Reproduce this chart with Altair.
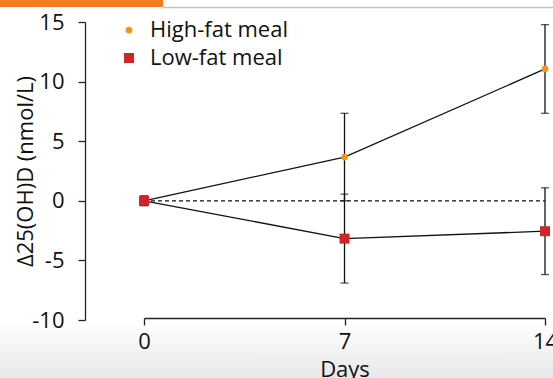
import altair as alt
import pandas as pd

# Change in serum 25(OH)D over the study days, mean with error bars
days = [0, 7, 14]
groups = ["High-fat meal", "Low-fat meal"]
high_fat_mean = [0.0, 3.67, 11.06]
high_fat_err = [0.4, 3.67, 3.72]
low_fat_mean = [0.0, -3.17, -2.55]
low_fat_err = [0.4, 3.73, 3.64]
group_colors = ["#f7921e", "#d42229"]
x_ticks = [0, 7, 14]
y_ticks = [-10, -5, 0, 5, 10, 15]

rows = []
for g, means, errs in zip(groups, [high_fat_mean, low_fat_mean], [high_fat_err, low_fat_err]):
    for d, m, e in zip(days, means, errs):
        rows.append({"day": d, "group": g, "mean": m, "lo": m - e, "hi": m + e})
df = pd.DataFrame(rows)

baseline_df = pd.DataFrame({"day": [days[0], days[-1]], "mean": [0, 0]})
shade_row = pd.DataFrame({"part": ["shade"]})
tab_row = pd.DataFrame({"part": ["tab"]})
rule_row = pd.DataFrame({"part": ["rule"]})

FONT = "Open Sans"
W, H = 401, 298

x_scale = alt.Scale(domain=[0, 14], nice=False, zero=False)
y_scale = alt.Scale(domain=[-10, 15], nice=False, zero=False)

x_axis = alt.Axis(
    values=x_ticks, title="Days", offset=-2, tickSize=7, labelPadding=23,
    labelBaseline="alphabetic", labelFlush=False, labelFontSize=22, labelFont=FONT,
    titleFontSize=22, titleFont=FONT, titleFontWeight="normal",
    titleX=W / 2, titleY=58, titleBaseline="alphabetic", titleAlign="center",
    grid=False, zindex=2,
)
y_axis = alt.Axis(
    values=y_ticks, title="Δ25(OH)D (nmol/L)", offset=59, tickSize=7, labelPadding=14,
    labelExpr="datum.value < 0 ? '-' + abs(datum.value) : '' + datum.value",
    labelFontSize=22, labelFont=FONT, labelBaseline="middle",
    titleFontSize=22, titleFont=FONT, titleFontWeight="normal", titleAngle=-90,
    titleX=-53, titleY=H / 2, titleBaseline="alphabetic", titleAlign="center",
    grid=False, zindex=2,
)

X = alt.X("day:Q", scale=x_scale, axis=x_axis)

color = alt.Color("group:N", scale=alt.Scale(domain=groups, range=group_colors),
                  legend=alt.Legend(title=None))
shape = alt.Shape("group:N", scale=alt.Scale(domain=groups, range=["circle", "square"]),
                  legend=alt.Legend(title=None))
size = alt.Size("group:N", scale=alt.Scale(domain=groups, range=[45, 100]),
                legend=alt.Legend(title=None))

# light grey shading along the bottom edge of the page
shade = alt.Chart(shade_row).mark_rect(
    fill=alt.LinearGradient(
        gradient="linear",
        stops=[alt.GradientStop(offset=0, color="#ffffff"),
               alt.GradientStop(offset=1, color="#e6e6e6")],
        x1=0, x2=0, y1=0, y2=1,
    ),
    strokeWidth=0,
).encode(x=alt.value(-150), x2=alt.value(420), y=alt.value(300), y2=alt.value(360))

# orange tab at the top-left corner and a thin grey rule beside it
tab = alt.Chart(tab_row).mark_rect(fill="#f47b20", strokeWidth=0).encode(
    x=alt.value(-150), x2=alt.value(19), y=alt.value(-25), y2=alt.value(-15)
)
top_rule = alt.Chart(rule_row).mark_rule(color="#c4c4c4", strokeWidth=1.5).encode(
    x=alt.value(19), x2=alt.value(420), y=alt.value(-14.5)
)

zero_line = alt.Chart(baseline_df).mark_line(
    color="#111111", strokeWidth=1.2, strokeDash=[4, 3]
).encode(x=X, y=alt.Y("mean:Q", scale=y_scale, axis=y_axis))

lines = alt.Chart(df).mark_line(color="#111111", strokeWidth=1.3).encode(
    x=X, y=alt.Y("mean:Q", scale=y_scale, axis=y_axis), detail="group:N"
)

err_rules = alt.Chart(df).mark_rule(color="#111111", strokeWidth=1.3).encode(
    x=X, y=alt.Y("lo:Q", scale=y_scale, axis=y_axis), y2="hi:Q"
)
caps_lo = alt.Chart(df).mark_tick(color="#111111", orient="horizontal", size=8, thickness=1.3).encode(
    x=X, y=alt.Y("lo:Q", scale=y_scale, axis=y_axis)
)
caps_hi = alt.Chart(df).mark_tick(color="#111111", orient="horizontal", size=8, thickness=1.3).encode(
    x=X, y=alt.Y("hi:Q", scale=y_scale, axis=y_axis)
)

points = alt.Chart(df).mark_point(filled=True, opacity=1, strokeWidth=0).encode(
    x=X, y=alt.Y("mean:Q", scale=y_scale, axis=y_axis),
    color=color, shape=shape, size=size,
    order=alt.Order("group:N", sort="ascending"),
)

chart = alt.layer(
    shade, zero_line, lines, err_rules, caps_lo, caps_hi, points, tab, top_rule
).properties(
    width=W, height=H,
    autosize=alt.AutoSizeParams(type="none"),
    padding={"left": 144, "top": 22, "right": 8, "bottom": 58},
).configure_view(stroke=None).configure_axis(
    domainColor="#222222", tickColor="#222222", labelColor="#111111",
    titleColor="#111111", domainWidth=1.3, tickWidth=1.3,
).configure_legend(
    orient="none", legendX=-26, legendY=-3, padding=0,
    labelFontSize=22, labelFont=FONT, labelColor="#111111",
    labelOffset=10, rowPadding=6, symbolStrokeWidth=0,
)

chart.save("out.html", embed_options={"renderer": "svg", "actions": False})
